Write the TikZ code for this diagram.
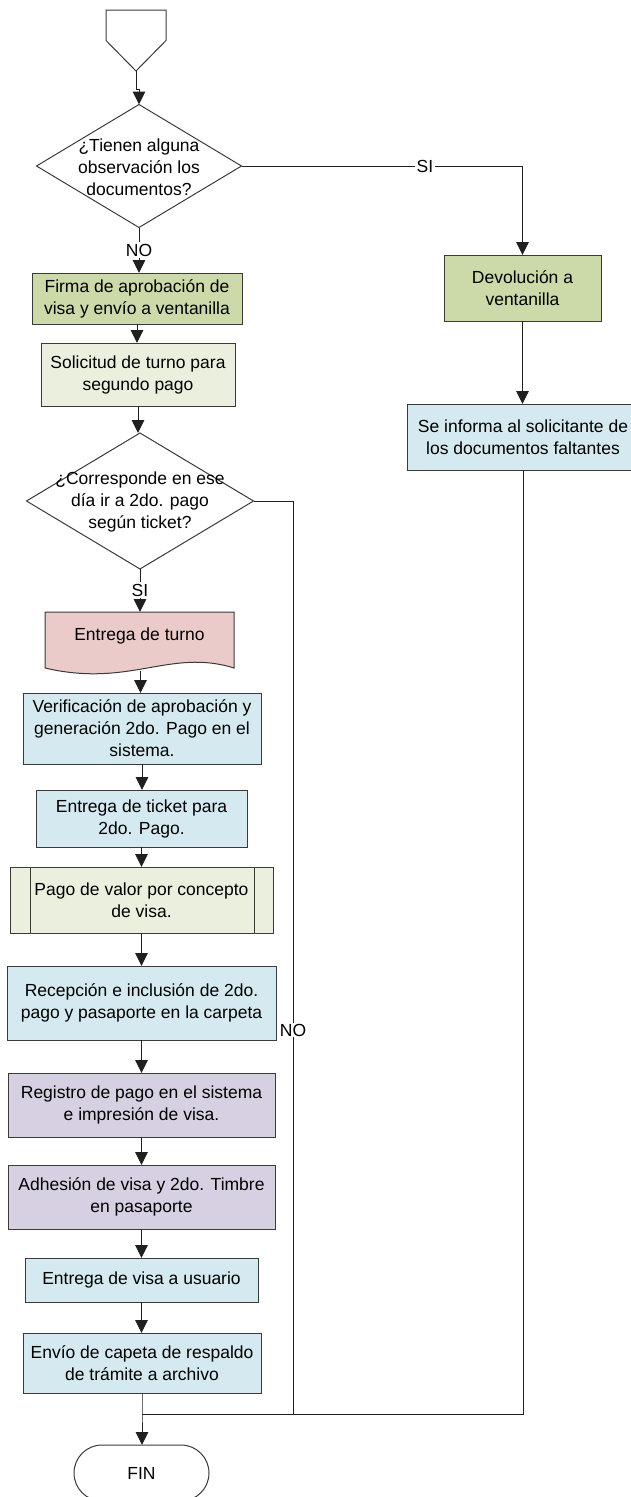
\documentclass[tikz,border=0pt]{standalone}
\usepackage{fontspec}
\setmainfont{Liberation Sans}
\usetikzlibrary{arrows.meta,shapes.geometric,shapes.misc}
\definecolor{edge}{HTML}{3A3A3A}
\definecolor{wire}{HTML}{202020}
\definecolor{grn}{HTML}{CCDAA9}
\definecolor{olive}{HTML}{EBF0DE}
\definecolor{rose}{HTML}{EBCACA}
\definecolor{sky}{HTML}{D5EAF0}
\definecolor{lilac}{HTML}{D7D0E2}
\begin{document}
\begin{tikzpicture}[x=1pt,y=-1pt,
  >={Triangle[length=13pt,width=12.5pt]},
  every node/.style={font=\fontsize{17.5}{22}\selectfont, text=black},
  box/.style={rectangle, draw=edge, line width=1pt, inner sep=0pt, outer sep=0pt, align=center},
  dec/.style={diamond, draw=edge, line width=1pt, fill=white, inner sep=0pt, outer sep=0pt},
  txt/.style={align=center, inner sep=0pt},
  lbl/.style={fill=white, inner sep=1.5pt},
  flow/.style={draw=wire, line width=1pt},
  arr/.style={flow, ->}]
\useasboundingbox (0,0) rectangle (630,1497);

% off-page connector at the top
\node[minimum width=60pt, minimum height=61pt, inner sep=0pt, outer sep=0pt] (start) at (136,40.5) {};
\draw[draw=edge, line width=1pt, fill=white]
  (start.north west) -- (start.north east) -- (start.east) -- (start.south)
  -- (start.west) -- cycle;

% first decision
\node[dec, minimum width=205pt, minimum height=123pt] (d1) at (139,166) {};
\node[txt] (d1t) at (139,167) {¿Tienen alguna\\observación los\\documentos?};

% left column
\node[box, fill=grn, minimum width=210pt, minimum height=51pt] (firma) at (137,298.5) {Firma de aprobación de\\visa y envío a ventanilla};
\node[box, fill=olive, minimum width=194pt, minimum height=63pt] (solic) at (138,374.5) {Solicitud de turno para\\segundo pago};

\node[dec, minimum width=227pt, minimum height=136pt] (d2) at (140,501) {};
\node[txt] (d2t) at (140,502) {¿Corresponde en ese\\día ir a 2do. pago\\según ticket?};

% document shape with a wavy lower edge
\node[minimum width=189pt, minimum height=56pt, inner sep=0pt, outer sep=0pt] (turno) at (139.5,640) {};
\draw[draw=edge, line width=1pt, fill=rose]
  (turno.south west) -- (turno.north west) -- (turno.north east) -- (turno.south east)
  .. controls (170,648) and (130,688) .. (turno.south west) -- cycle;
\node[txt] (turnot) at (139.5,636) {Entrega de turno};
\coordinate (wave) at (140.5,671);

\node[box, fill=sky, minimum width=238pt, minimum height=71pt] (verif) at (142,728.5) {Verificación de aprobación y\\generación 2do. Pago en el\\sistema.};
\node[box, fill=sky, minimum width=211pt, minimum height=57pt] (ticket) at (141.5,818.5) {Entrega de ticket para\\2do. Pago.};

% predefined process
\node[box, fill=olive, minimum width=263pt, minimum height=66pt] (pago) at (141.5,900) {Pago de valor por concepto\\de visa.};
\draw[draw=edge, line width=1pt] ([xshift=20pt]pago.north west) -- ([xshift=20pt]pago.south west);
\draw[draw=edge, line width=1pt] ([xshift=-19pt]pago.north east) -- ([xshift=-19pt]pago.south east);

\node[box, fill=sky, minimum width=269pt, minimum height=74pt] (recep) at (141.5,1003) {Recepción e inclusión de 2do.\\pago y pasaporte en la carpeta};
\node[box, fill=lilac, minimum width=267pt, minimum height=64pt] (regis) at (141.5,1105) {Registro de pago en el sistema\\e impresión de visa.};
\node[box, fill=lilac, minimum width=267pt, minimum height=64pt] (adhes) at (141.5,1197) {Adhesión de visa y 2do. Timbre\\en pasaporte};
\node[box, fill=sky, minimum width=233pt, minimum height=44pt] (usuario) at (141.5,1280) {Entrega de visa a usuario};
\node[box, fill=sky, minimum width=238pt, minimum height=60pt] (envio) at (142,1363) {Envío de capeta de respaldo\\de trámite a archivo};

\node[rounded rectangle, draw=edge, line width=1pt, fill=white, inner sep=0pt, outer sep=0pt,
      minimum width=135pt, minimum height=56pt] (fin) at (141.5,1473) {FIN};

% right column
\node[box, fill=grn, minimum width=157pt, minimum height=66pt] (devol) at (522.5,288) {Devolución a\\ventanilla};
\node[box, fill=sky, minimum width=232pt, minimum height=66pt] (informa) at (523,437) {Se informa al solicitante de\\los documentos faltantes};

% junction points of the return lines
\coordinate (join) at (142,1414);
\coordinate (nocorner) at (293,1414);

% connectors
\draw[arr] (start.south) -- ++(0,18) -| (d1.north);
\draw[arr] (d1.south) -- (d1.south |- firma.north);
\node[lbl] (no1) at (139,250) {NO};
\draw[arr] (d1.east) -| (devol.north);
\node[lbl] (si1) at (425,166) {SI};
\draw[arr] (devol.south) -- (devol.south |- informa.north);
\draw[arr] (firma.south) -- (firma.south |- solic.north);
\draw[arr] (solic.south) -- (solic.south |- d2.north);
\draw[arr] (d2.south) -- (d2.south |- turno.north);
\node[lbl] (si2) at (140,590) {SI};
\draw[arr] (wave) -- (wave |- verif.north);
\draw[arr] (verif.south) -- (verif.south |- ticket.north);
\draw[arr] (ticket.south) -- (ticket.south |- pago.north);
\draw[arr] (pago.south) -- (pago.south |- recep.north);
\draw[arr] (recep.south) -- (recep.south |- regis.north);
\draw[arr] (regis.south) -- (regis.south |- adhes.north);
\draw[arr] (adhes.south) -- (adhes.south |- usuario.north);
\draw[arr] (usuario.south) -- (usuario.south |- envio.north);
\draw[flow] (d2.east) -| (nocorner) -- (join);
\draw[flow] (informa.south) |- (join);
\draw[arr] (envio.south) -- (join) -- (join |- fin.north);
\node[lbl, inner sep=1pt] (no2) at (293,1030) {NO};
\end{tikzpicture}
\end{document}
